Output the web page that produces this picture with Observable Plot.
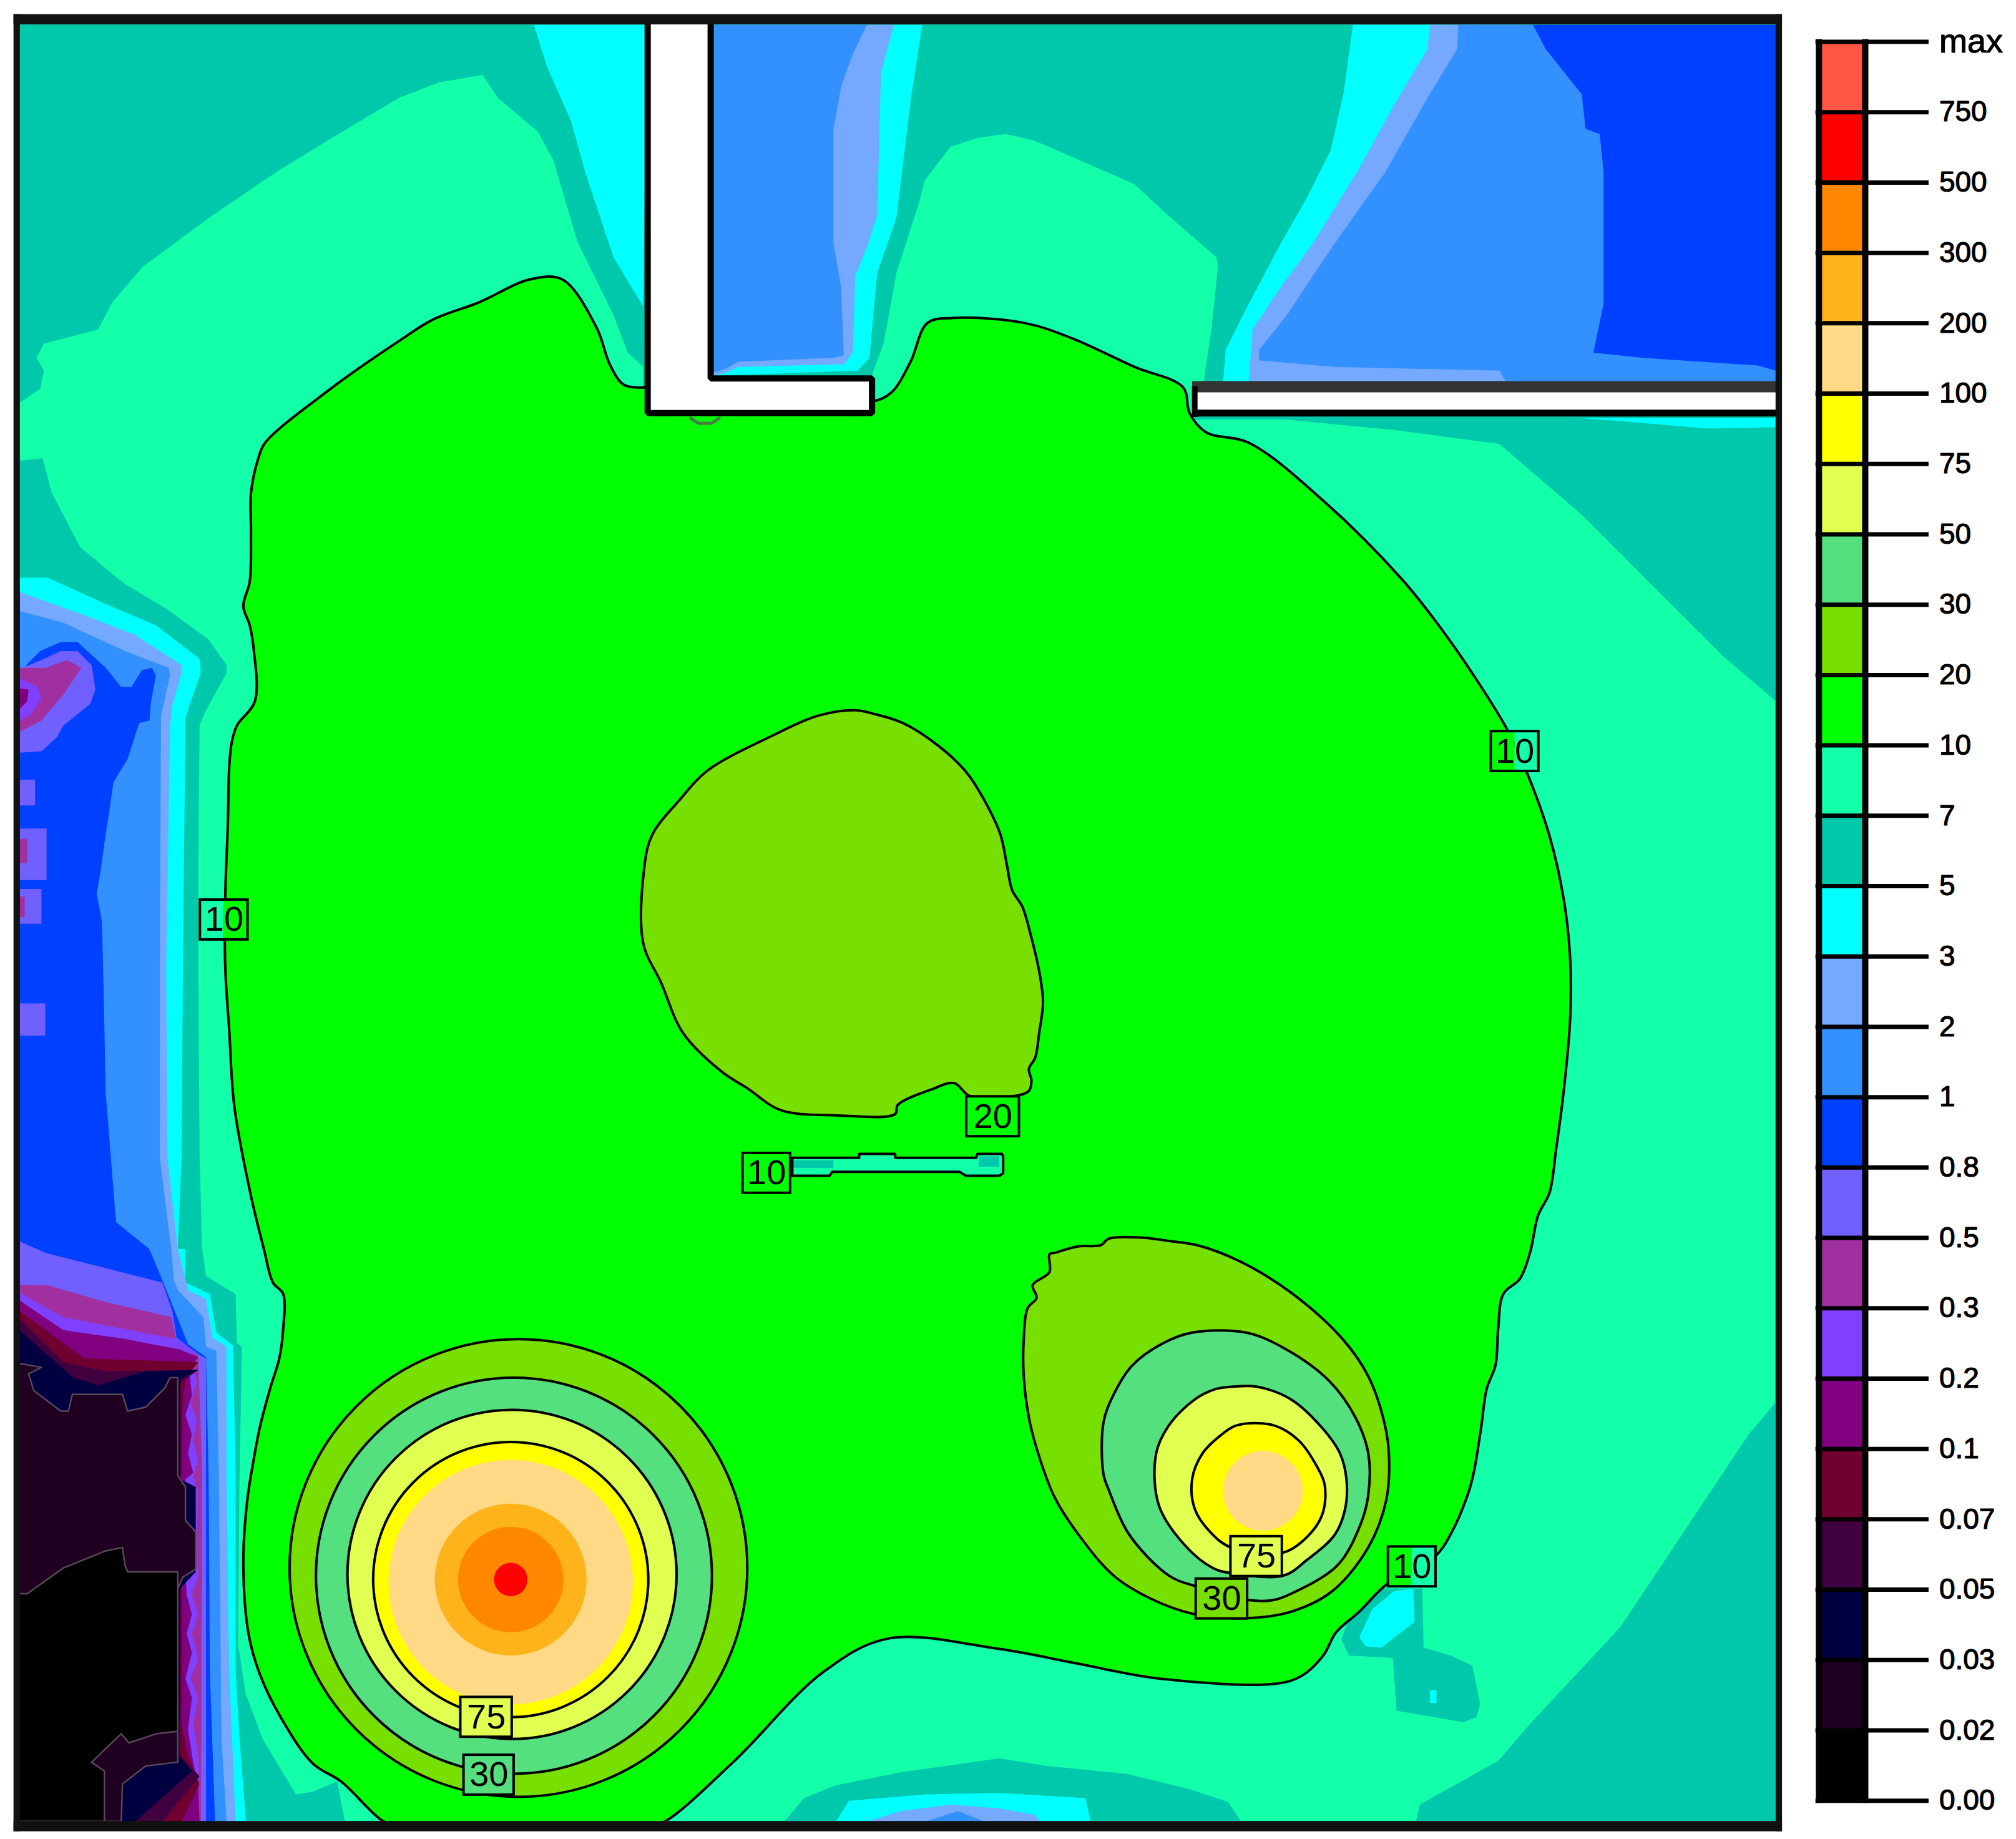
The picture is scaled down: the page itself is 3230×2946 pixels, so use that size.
<!DOCTYPE html>
<html><head><meta charset="utf-8">
<style>html,body{margin:0;padding:0;background:#fff}svg{display:block}</style>
<script src="https://cdn.jsdelivr.net/npm/d3@7"></script>
<script src="https://cdn.jsdelivr.net/npm/@observablehq/plot@0.6"></script>
</head><body><div id="chart"></div>
<script>
// colour bands
const barLabels = ["0.00","0.02","0.03","0.05","0.07","0.1","0.2","0.3","0.5","0.8","1","2","3","5","7","10","20","30","50","75","100","200","300","500","750","max"];
const barColors = ["#000000","#1f0020","#000040","#400040","#700030","#800080","#8040ff","#a030a0","#7060ff","#0040ff","#3390ff","#75a8ff","#00ffff","#00c8aa","#14ffaa","#00ff00","#78e000","#55e080","#e0ff50","#ffff00","#ffd985","#ffb31a","#ff8800","#ff0000","#ff5544"];
const [cBlack,cDark,cNavy,cPlum,cWine,cMagenta,cViolet,cOrchid,cPeri,cDeep,cBlue,cSky,cCyan,cTeal,cMint,cGreen,cOlive,cSea,cLemon,cYellow,cPeach,cAmber,cOrange,cRed] = barColors;

// map extents
const mapFrame = [15,1381,19,1416];

// band outlines
const mint = [[15,358],[15,313],[31,302],[34,288],[28,278],[34,267],[76,256],[87,235],[111,207],[164,168],[217,132],[263,104],[310,76],[341,64],[375,58],[387,76],[418,102],[430,124],[449,188],[477,245],[488,274],[500,285],[500,330],[678,330],[678,291],[687,267],[697,212],[715,156],[719,140],[739,114],[760,107],[782,104],[804,109],[834,122],[882,143],[908,167],[946,200],[947,207],[942,256],[936,296],[929,326],[999,326],[1083,334],[1166,345],[1230,400],[1290,460],[1340,510],[1381,545],[1381,1090],[1360,1115],[1310,1190],[1260,1265],[1190,1340],[1165,1369],[1104,1403],[1101,1416],[965,1416],[955,1401],[925,1391],[876,1379],[814,1373],[777,1367],[700,1378],[650,1388],[625,1398],[610,1416],[268,1416],[262,1385],[243,1393],[230,1395],[204,1352],[191,1317],[185,1279],[186,1147],[188,1047],[184,1044],[183,1006],[160,992],[157,971],[155,900],[154,753],[154,673],[155,564],[159,554],[176,523],[176,517],[162,497],[129,473],[97,454],[87,446],[62,425],[40,383],[33,356]];

const tealBlob = [[1076,1235],[1106,1235],[1107,1281],[1128,1287],[1145,1295],[1151,1325],[1148,1335],[1138,1339],[1086,1330],[1083,1289],[1049,1287],[1043,1275],[1047,1263]];
const cyanBlob = [[1084,1237],[1099,1235],[1100,1261],[1074,1281],[1062,1280],[1057,1273],[1067,1251]];
const cyanSpot = [[1112,1314],[1117,1314],[1117,1324],[1112,1324]];

const cyanLeft = [[15,449],[37,449],[81,469],[121,486],[155,512],[156,523],[149,543],[144,558],[142,753],[141,900],[138,971],[144,971],[144,997],[163,1006],[168,1036],[181,1046],[183,1147],[183,1300],[186,1350],[191,1416],[15,1416]];
const skyLeft = [[15,460],[65,478],[104,493],[141,517],[141,523],[134,547],[132,564],[129,753],[130,900],[138,971],[146,1003],[160,1010],[165,1040],[176,1047],[176,1147],[178,1300],[183,1416],[15,1416]];
const blueLeft = [[15,475],[49,484],[97,506],[131,519],[132,525],[128,543],[125,556],[124,753],[124,900],[133,971],[135,995],[138,1003],[158,1024],[160,1047],[168,1050],[170,1147],[172,1352],[176,1416],[15,1416]];
const deepLeft = [[15,526],[21,516],[31,506],[47,499],[60,499],[82,519],[94,534],[102,534],[110,521],[118,519],[121,525],[117,547],[116,560],[108,562],[99,590],[88,608],[85,629],[81,655],[78,677],[75,695],[79,716],[80,753],[82,850],[90,950],[116,971],[128,1000],[146,1045],[160,1055],[162,1147],[163,1300],[167,1416],[15,1416]];
const periTop = [[15,520],[32,513],[47,506],[60,506],[71,517],[74,536],[70,547],[49,564],[44,573],[32,584],[15,585]];
const periA = [[15,606],[27,606],[27,626],[15,626]];
const periB = [[15,644],[36,644],[36,684],[15,684]];
const periC = [[15,691],[32,691],[32,718],[15,718]];
const periD = [[15,780],[35,780],[35,805],[15,805]];
const periLow = [[15,965],[35,974],[126,997],[134,1020],[137,1040],[154,1053],[160,1056],[160,1200],[160,1416],[15,1416]];
const orchidTop = [[15,519],[35,519],[52,513],[63,519],[49,540],[32,560],[15,569]];
const orchidB = [[15,652],[21,652],[21,671],[15,671]];
const orchidC = [[15,697],[19,697],[19,713],[15,713]];
const orchidLow = [[15,999],[36,999],[81,1012],[133,1024],[137,1042],[154,1054],[157,1147],[156,1416],[15,1416]];
const violetTop = [[15,527],[29,534],[32,543],[23,556],[15,560]];
const violetLow = [[15,1005],[49,1024],[137,1041],[150,1050],[150,1060],[153,1075],[148,1090],[153,1105],[150,1120],[154,1135],[150,1148],[154,1160],[153,1190],[154,1225],[149,1240],[154,1255],[149,1270],[154,1290],[148,1305],[154,1320],[150,1340],[154,1365],[155,1400],[155,1416],[15,1416]];
const magentaTop = [[15,535],[22,536],[21,545],[15,551]];
const magentaLow = [[15,1011],[49,1034],[97,1041],[139,1049],[154,1055],[147,1065],[149,1085],[144,1100],[149,1115],[146,1130],[150,1145],[144,1150],[144,1225],[145,1240],[149,1255],[145,1270],[149,1285],[144,1305],[149,1320],[146,1345],[150,1370],[154,1390],[155,1416],[15,1416]];
const wineLow = [[15,1019],[65,1056],[154,1059],[145,1070],[142,1085],[141,1147],[141,1230],[141,1340],[146,1365],[155,1387],[141,1416],[15,1416]];
const plumLow = [[15,1025],[49,1059],[81,1066],[154,1065],[140,1075],[140,1365],[155,1381],[126,1416],[15,1416]];
const navyLow = [[15,1034],[36,1053],[57,1071],[76,1077],[113,1066],[154,1065],[140,1072],[140,1150],[152,1156],[152,1222],[140,1235],[139,1365],[149,1377],[105,1416],[15,1416]];
const darkLow = [[15,1060],[32,1063],[22,1068],[26,1081],[47,1097],[53,1097],[56,1084],[95,1084],[99,1097],[113,1094],[128,1079],[132,1071],[138,1071],[138,1147],[144,1156],[144,1182],[152,1191],[152,1220],[142,1226],[138,1235],[138,1370],[113,1373],[95,1387],[94,1416],[15,1416]];
const blackLow = [[15,1239],[21,1239],[49,1219],[81,1206],[95,1203],[97,1217],[99,1222],[138,1222],[138,1346],[121,1348],[100,1355],[94,1348],[71,1370],[81,1377],[81,1416],[15,1416]];

const cyanWedge = [[415,19],[425,51],[444,94],[455,134],[477,200],[500,238],[503,19]];
const cyanRoom = [[553,19],[717,19],[708,78],[697,169],[682,212],[676,278],[667,288],[553,292]];
const skyRoom = [[553,19],[695,19],[685,56],[682,167],[674,192],[665,214],[663,274],[656,283],[574,285],[563,290],[553,292]];
const blueRoom = [[553,19],[674,19],[663,42],[654,67],[648,100],[648,189],[654,223],[656,276],[648,278],[574,281],[563,287],[553,290]];
const cyanEast = [[1052,19],[1045,71],[1035,116],[1016,154],[996,189],[971,236],[953,272],[951,298],[1172,298],[1134,19]];
const skyEast = [[1112,19],[1110,38],[1085,80],[1055,134],[1021,189],[996,223],[974,256],[971,298],[1172,298],[1172,19]];
const deepEast = [[1192,19],[1381,19],[1381,298],[1192,298]];
const blueEast = [[1134,19],[1133,38],[1110,76],[1077,134],[1042,183],[1021,214],[1002,243],[979,272],[979,280],[1038,285],[1166,288],[1172,298],[1381,298],[1381,288],[1367,284],[1278,278],[1239,274],[1247,236],[1247,134],[1244,104],[1233,100],[1230,73],[1202,38],[1192,19]];
const cyanStrip = [[1230,325],[1381,325],[1381,332],[1328,333],[1258,327]];

const cyanBump = [[650,1416],[660,1400],[720,1395],[777,1394],[844,1398],[848,1416]];
const skyBump = [[675,1416],[700,1408],[740,1403],[777,1406],[804,1411],[809,1416]];
const blueBump = [[720,1416],[745,1408],[765,1416]];

const green = [[500,301],[485,299],[474,283],[464,255],[437,217],[412,217],[372,235],[337,248],[310,265],[257,302],[206,344],[201,355],[195,383],[195,413],[194,452],[189,471],[194,486],[197,504],[198,545],[184,564],[180,577],[178,597],[177,640],[175,695],[175,753],[178,800],[182,860],[195,930],[205,971],[212,997],[220,1006],[220,1033],[217,1056],[210,1079],[202,1109],[197,1135],[192,1167],[189,1214],[193,1270],[202,1302],[218,1335],[243,1371],[265,1385],[298,1416],[310,1419],[400,1419],[505,1419],[517,1416],[570,1370],[640,1300],[690,1274],[777,1282],[836,1293],[901,1305],[992,1309],[1012,1303],[1029,1287],[1039,1269],[1057,1253],[1078,1232],[1116,1210],[1129,1191],[1141,1163],[1146,1145],[1152,1108],[1156,1080],[1163,1061],[1165,1033],[1169,1006],[1182,994],[1190,973],[1196,945],[1205,927],[1210,894],[1216,848],[1221,792],[1221,745],[1216,699],[1205,650],[1188,602],[1172,567],[1146,525],[1118,485],[1090,450],[1030,390],[971,344],[938,336],[925,321],[920,301],[882,285],[834,263],[797,251],[741,247],[721,251],[708,281],[693,305],[678,312],[600,312],[500,301]];
const oliveCentre = [[665,552],[637,556],[598,573],[550,599],[529,621],[507,649],[501,673],[500,733],[514,764],[531,803],[561,833],[581,846],[607,863],[650,867],[696,866],[698,859],[724,847],[742,842],[754,852],[789,852],[800,848],[802,840],[800,831],[805,822],[808,803],[811,779],[808,755],[802,729],[795,705],[787,692],[783,673],[778,649],[767,625],[752,601],[730,580],[702,562],[680,555]];
const slit = [[616,900],[668,900],[668,897],[696,897],[696,900],[759,900],[760,897],[779,897],[780,899],[780,912],[777,914],[751,914],[746,911],[647,911],[645,914],[616,914],[616,900]];
const slitTealA = [[761,899],[777,899],[777,907],[761,907]];
const slitTealB = [[616,902],[648,902],[648,908],[616,908]];
const oliveDrop = [[816,975],[816,989],[803,999],[806,1009],[799,1017],[796,1041],[796,1070],[800,1102],[806,1126],[820,1164],[840,1195],[866,1225],[895,1243],[929,1255],[969,1258],[1004,1253],[1036,1237],[1064,1203],[1078,1166],[1080,1130],[1076,1104],[1064,1070],[1044,1041],[1004,1005],[965,981],[931,968],[911,965],[885,962],[862,963],[856,968],[838,969],[820,974]];
const seaDrop = [[927,1036],[969,1036],[1000,1049],[1034,1074],[1054,1102],[1064,1130],[1064,1162],[1058,1185],[1040,1217],[1004,1239],[990,1244],[971,1244],[929,1233],[909,1225],[878,1193],[862,1158],[858,1146],[858,1106],[866,1084],[880,1062],[903,1045]];
const lemonDrop = [[959,1078],[977,1078],[1004,1088],[1028,1110],[1042,1130],[1047,1150],[1046,1173],[1038,1193],[1016,1213],[998,1225],[957,1223],[943,1219],[921,1201],[901,1170],[899,1130],[909,1108],[929,1088],[945,1080]];
const yellowDrop = [[962,1108],[990,1108],[1010,1120],[1024,1140],[1030,1154],[1029,1175],[1020,1191],[998,1207],[957,1203],[941,1191],[929,1173],[927,1150],[935,1130],[949,1116]];
const wallWest = [[503.5,15],[503.5,321],[678,321],[678,294],[552.5,294],[552.5,15]];
const wallEastFill = [[929,300],[1381,300],[1381,321],[929,321]];
const wallEastTop = [[927,300.5],[1381,300.5]];
const wallEastBottom = [[927,321],[1381,321]];
const wallEastEnd = [[929,300],[929,324]];
const wallBump = [[537,325],[543,329],[553,329],[559,325]];

// concentric rings around the south-west source
const ringX = [403,399.5,398,397,397,397,397,397];
const ringY = [1219,1225,1224,1228,1230,1228,1228,1228];
const ringR = [178,154,128,107,95,59,41,13];
const ringFill = [cOlive,cSea,cLemon,cYellow,cPeach,cAmber,cOrange,cRed];
const ringStroke = ["black","black","black","black","none","none","none","none"];
const peachDrop = {x:[982],y:[1159],r:[31]};

// contour labels
const tagText = ["10","10","20","10","75","30","10","75","30"];
const tagX = [1178,174,772,596,977,950,1098,378,380];
const tagY = [584,715,868,912,1210,1243,1218,1335,1380];
const tagW = [37,37,41,37,40,40,37,40,39];
const tagLeft = [cGreen,cMint,cGreen,cGreen,cLemon,cOlive,cGreen,cLemon,cSea];
const tagRight = [cMint,cGreen,cGreen,cGreen,cLemon,cOlive,cMint,cLemon,cSea];
const tagH = 31;

const unit = 3230/1568;
const barY = d3.scaleLinear([0,25],[1400,32.3]);
const poly = (pts, fill, o={}) => Plot.line(pts,{x:d=>d[0],y:d=>d[1],fill,stroke:"none",...o});
const ink = (pts, o={}) => Plot.line(pts,{x:d=>d[0],y:d=>d[1],stroke:"black",strokeWidth:4,fill:"none",...o});
const closed = {curve:"catmull-rom-closed"};
const open = {curve:"catmull-rom"};

const rings = ringX.map((x,i)=>({x,y:ringY[i],r:ringR[i]*unit,fill:ringFill[i],stroke:ringStroke[i]}));
const tags = tagText.map((t,i)=>({t,x:tagX[i],y:tagY[i],w:tagW[i],l:tagLeft[i],r:tagRight[i]}));
const bands = barColors.map((c,i)=>({c,y1:barY(i),y2:barY(i+1)}));
const ticks = barLabels.map((t,i)=>({t,y:barY(i)}));

const lowOutline = {stroke:"#5a4a5a",strokeWidth:2.4};

const plot = Plot.plot({
  width:3230,height:2946,margin:0,
  x:{domain:[0,1568],axis:null},
  y:{domain:[1430,0],axis:null},
  color:{type:"identity"},
  r:{type:"identity"},
  style:{background:"#fff"},
  marks:[
    Plot.rect([mapFrame],{x1:d=>d[0],x2:d=>d[1],y1:d=>d[2],y2:d=>d[3],fill:cTeal}),
    poly(mint,cMint),
    poly(tealBlob,cTeal),poly(cyanBlob,cCyan),poly(cyanSpot,cCyan),
    poly(cyanBump,cCyan),poly(skyBump,cSky),poly(blueBump,cBlue),
    poly(cyanStrip,cCyan),
    poly(cyanWedge,cCyan),poly(cyanRoom,cCyan),poly(skyRoom,cSky),poly(blueRoom,cBlue),
    poly(deepEast,cDeep),poly(cyanEast,cCyan),poly(skyEast,cSky),poly(blueEast,cBlue),
    poly(cyanLeft,cCyan),poly(skyLeft,cSky),poly(blueLeft,cBlue),poly(deepLeft,cDeep),
    poly(periTop,cPeri),poly(periA,cPeri),poly(periB,cPeri),poly(periC,cPeri),poly(periD,cPeri),poly(periLow,cPeri),
    poly(orchidTop,cOrchid),poly(orchidB,cOrchid),poly(orchidC,cOrchid),poly(orchidLow,cOrchid),
    poly(violetTop,cViolet),poly(violetLow,cViolet),
    poly(magentaTop,cMagenta),poly(magentaLow,cMagenta),
    poly(wineLow,cWine),poly(plumLow,cPlum),poly(navyLow,cNavy),
    Plot.line(darkLow,{x:d=>d[0],y:d=>d[1],fill:cDark,...lowOutline}),
    Plot.line(blackLow,{x:d=>d[0],y:d=>d[1],fill:cBlack,...lowOutline}),
    poly(green,cGreen,open),ink(green,open),
    poly(slit,cMint),poly(slitTealA,cTeal),poly(slitTealB,cTeal),ink(slit),
    poly(oliveCentre,cOlive,closed),ink(oliveCentre,closed),
    poly(oliveDrop,cOlive,closed),ink(oliveDrop,closed),
    poly(seaDrop,cSea,closed),ink(seaDrop,closed),
    poly(lemonDrop,cLemon,closed),ink(lemonDrop,closed),
    poly(yellowDrop,cYellow,closed),ink(yellowDrop,closed),
    Plot.dot(rings,{x:"x",y:"y",r:"r",fill:"fill",stroke:"stroke",strokeWidth:4,sort:null}),
    Plot.dot([0],{x:()=>peachDrop.x[0],y:()=>peachDrop.y[0],r:()=>peachDrop.r[0]*unit,fill:cPeach,stroke:"none"}),
    // walls
    Plot.line(wallBump,{x:d=>d[0],y:d=>d[1],stroke:"#4a7a4a",strokeWidth:5}),
    Plot.line(wallWest,{x:d=>d[0],y:d=>d[1],fill:"#fff",stroke:"black",strokeWidth:10,strokeLinejoin:"miter"}),
    poly(wallEastFill,"#fff"),
    Plot.line(wallEastTop,{x:d=>d[0],y:d=>d[1],stroke:"#333",strokeWidth:18,strokeLinecap:"butt"}),
    Plot.line(wallEastBottom,{x:d=>d[0],y:d=>d[1],stroke:"black",strokeWidth:11,strokeLinecap:"butt"}),
    Plot.line(wallEastEnd,{x:d=>d[0],y:d=>d[1],stroke:"black",strokeWidth:9,strokeLinecap:"butt"}),
    // contour tags
    Plot.rect(tags,{x1:d=>d.x-d.w/2,x2:d=>d.x,y1:d=>d.y-tagH/2,y2:d=>d.y+tagH/2,fill:"l"}),
    Plot.rect(tags,{x1:d=>d.x,x2:d=>d.x+d.w/2,y1:d=>d.y-tagH/2,y2:d=>d.y+tagH/2,fill:"r"}),
    Plot.rect(tags,{x1:d=>d.x-d.w/2,x2:d=>d.x+d.w/2,y1:d=>d.y-tagH/2,y2:d=>d.y+tagH/2,fill:"none",stroke:"black",strokeWidth:4}),
    Plot.text(tags,{x:"x",y:"y",text:"t",fontFamily:"Liberation Sans",fontSize:56,fill:"black",lineAnchor:"middle"}),
    // frame
    Plot.rect([[10.5,15.5,11,1424],[1381,1386,11,1424],[10.5,1386,11,19],[10.5,1386,1416,1424]],{x1:d=>d[0],x2:d=>d[1],y1:d=>d[2],y2:d=>d[3],fill:"#111"}),
    // colour bar
    Plot.rect(bands,{x1:1415,x2:1450,y1:"y1",y2:"y2",fill:"c"}),
    Plot.ruleY(ticks,{y:"y",x1:1412,x2:1500,stroke:"black",strokeWidth:7}),
    Plot.ruleX([1414.5,1450.5],{y1:30.5,y2:1402,stroke:"black",strokeWidth:10}),
    Plot.text(ticks.filter(d=>d.t!=="max"),{x:1508,y:"y",text:"t",textAnchor:"start",lineAnchor:"middle",fontFamily:"Liberation Sans",fontSize:46,fill:"black",stroke:"black",strokeWidth:1.2}),
    Plot.text(ticks.filter(d=>d.t==="max"),{x:1508,y:"y",text:"t",textAnchor:"start",lineAnchor:"middle",fontFamily:"Liberation Sans",fontSize:54,fill:"black",stroke:"black",strokeWidth:1.2})
  ]
});
document.getElementById("chart").append(plot);
</script></body></html>
